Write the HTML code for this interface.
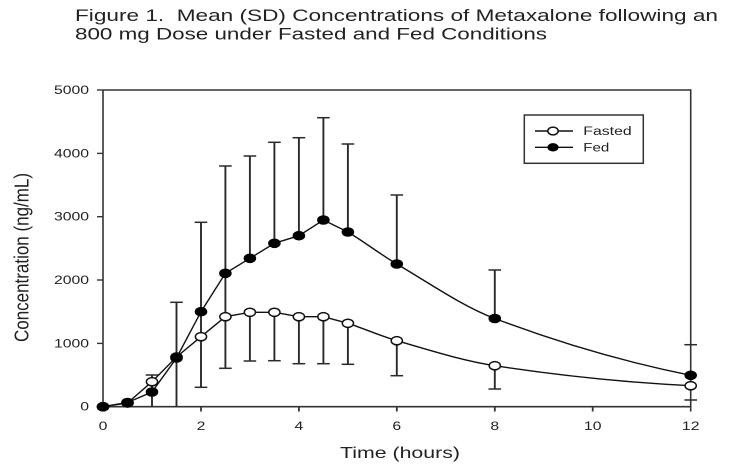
<!DOCTYPE html>
<html><head><meta charset="utf-8"><style>
html,body{margin:0;padding:0;background:#fff;}
svg{display:block;}
text{font-family:"Liberation Sans",Arial,sans-serif;fill:#222;}
</style></head><body>
<svg width="732" height="474" viewBox="0 0 732 474" xmlns="http://www.w3.org/2000/svg">
<rect width="732" height="474" fill="#fff"/>
<!-- Title -->
<text x="75" y="21" font-size="16.5" textLength="643" lengthAdjust="spacingAndGlyphs" xml:space="preserve">Figure 1.  Mean (SD) Concentrations of Metaxalone following an</text>
<text x="75" y="39.5" font-size="16.5" textLength="472" lengthAdjust="spacingAndGlyphs">800 mg Dose under Fasted and Fed Conditions</text>

<!-- Frame -->
<g stroke="#333" stroke-width="1.6" fill="none">
<line x1="103" y1="90" x2="690.7" y2="90"/>
<line x1="103" y1="90" x2="103" y2="407.5"/>
<line x1="102.2" y1="406.7" x2="691.5" y2="406.7"/>
<line x1="690.7" y1="89.2" x2="690.7" y2="411.5"/>
</g>
<!-- Y ticks -->
<g stroke="#333" stroke-width="1.4">
<line x1="97" y1="90" x2="103" y2="90"/>
<line x1="97" y1="153.4" x2="103" y2="153.4"/>
<line x1="97" y1="216.7" x2="103" y2="216.7"/>
<line x1="97" y1="280" x2="103" y2="280"/>
<line x1="97" y1="343.4" x2="103" y2="343.4"/>
<line x1="97" y1="406.7" x2="103" y2="406.7"/>
</g>
<!-- X ticks -->
<g stroke="#333" stroke-width="1.8">
<line x1="103" y1="406.7" x2="103" y2="411.5"/>
<line x1="201" y1="406.7" x2="201" y2="411.5"/>
<line x1="298.9" y1="406.7" x2="298.9" y2="411.5"/>
<line x1="396.8" y1="406.7" x2="396.8" y2="411.5"/>
<line x1="494.8" y1="406.7" x2="494.8" y2="411.5"/>
<line x1="592.7" y1="406.7" x2="592.7" y2="411.5"/>
</g>
<!-- Y tick labels -->
<g font-size="11.5" text-anchor="end" fill="#333">
<text transform="translate(89,94) scale(1.37,1)">5000</text>
<text transform="translate(89,157.4) scale(1.37,1)">4000</text>
<text transform="translate(89,220.7) scale(1.37,1)">3000</text>
<text transform="translate(89,284) scale(1.37,1)">2000</text>
<text transform="translate(89,347.4) scale(1.37,1)">1000</text>
<text transform="translate(89,410.7) scale(1.37,1)">0</text>
</g>
<!-- X tick labels -->
<g font-size="11.5" text-anchor="middle" fill="#333">
<text transform="translate(103,430) scale(1.37,1)">0</text>
<text transform="translate(201,430) scale(1.37,1)">2</text>
<text transform="translate(298.9,430) scale(1.37,1)">4</text>
<text transform="translate(396.8,430) scale(1.37,1)">6</text>
<text transform="translate(494.8,430) scale(1.37,1)">8</text>
<text transform="translate(592.7,430) scale(1.37,1)">10</text>
<text transform="translate(690.7,430) scale(1.37,1)">12</text>
</g>
<!-- Axis titles -->
<text x="400" y="458" font-size="16" text-anchor="middle" textLength="120" lengthAdjust="spacingAndGlyphs">Time (hours)</text>
<text transform="translate(28.7,257.5) scale(1.37,1) rotate(-90)" font-size="15" text-anchor="middle" textLength="169" lengthAdjust="spacingAndGlyphs">Concentration (ng/mL)</text>

<!-- Error bars -->
<g stroke="#2a2a2a" fill="none">
<g stroke-width="1.9">
<line x1="152" y1="375" x2="152" y2="406.7"/>
<line x1="176.5" y1="302.3" x2="176.5" y2="406.7"/>
<line x1="201" y1="222.3" x2="201" y2="387.3"/>
<line x1="225.4" y1="166" x2="225.4" y2="368.3"/>
<line x1="249.9" y1="156" x2="249.9" y2="258.3"/>
<line x1="249.9" y1="312.3" x2="249.9" y2="361"/>
<line x1="274.4" y1="142.3" x2="274.4" y2="243.3"/>
<line x1="274.4" y1="312.3" x2="274.4" y2="360.7"/>
<line x1="298.9" y1="137.7" x2="298.9" y2="235.7"/>
<line x1="298.9" y1="316.7" x2="298.9" y2="363.7"/>
<line x1="323.4" y1="117.7" x2="323.4" y2="220"/>
<line x1="323.4" y1="316.7" x2="323.4" y2="363.7"/>
<line x1="347.9" y1="144" x2="347.9" y2="232"/>
<line x1="347.9" y1="323.3" x2="347.9" y2="364.3"/>
<line x1="396.8" y1="195" x2="396.8" y2="264"/>
<line x1="396.8" y1="340.7" x2="396.8" y2="375.7"/>
<line x1="494.8" y1="270" x2="494.8" y2="318.5"/>
<line x1="494.8" y1="365.7" x2="494.8" y2="389"/>
</g>
<g stroke-width="1.5">
<line x1="145.7" y1="375" x2="158.3" y2="375"/>
<line x1="170.2" y1="302.3" x2="182.8" y2="302.3"/>
<line x1="194.7" y1="222.3" x2="207.3" y2="222.3"/>
<line x1="194.7" y1="387.3" x2="207.3" y2="387.3"/>
<line x1="219.1" y1="166" x2="231.7" y2="166"/>
<line x1="219.1" y1="368.3" x2="231.7" y2="368.3"/>
<line x1="243.6" y1="156" x2="256.2" y2="156"/>
<line x1="243.6" y1="361" x2="256.2" y2="361"/>
<line x1="268.1" y1="142.3" x2="280.7" y2="142.3"/>
<line x1="268.1" y1="360.7" x2="280.7" y2="360.7"/>
<line x1="292.6" y1="137.7" x2="305.2" y2="137.7"/>
<line x1="292.6" y1="363.7" x2="305.2" y2="363.7"/>
<line x1="317.1" y1="117.7" x2="329.7" y2="117.7"/>
<line x1="317.1" y1="363.7" x2="329.7" y2="363.7"/>
<line x1="341.6" y1="144" x2="354.2" y2="144"/>
<line x1="341.6" y1="364.3" x2="354.2" y2="364.3"/>
<line x1="390.5" y1="195" x2="403.1" y2="195"/>
<line x1="390.5" y1="375.7" x2="403.1" y2="375.7"/>
<line x1="488.5" y1="270" x2="501.1" y2="270"/>
<line x1="488.5" y1="389" x2="501.1" y2="389"/>
<line x1="684.4" y1="344.7" x2="697" y2="344.7"/>
<line x1="684.4" y1="400" x2="697" y2="400"/>
</g>
</g>

<!-- Fasted line -->
<path d="M103,406.7 L127.5,403 L152,381.7 L176.5,357 L201,336.7 L225.4,316.7 L249.9,312.3 L274.4,312.3 L298.9,316.7 L323.4,316.7 L347.9,323.3 C364.2,328.6 380.5,336 396.8,340.7 C429.5,350.1 462.1,360.7 494.8,365.7 C560.1,375.7 625.4,382.4 690.7,385.7" fill="none" stroke="#111" stroke-width="1.4"/>
<!-- Fed line -->
<path d="M103,406.7 L127.5,402.5 L152,392 L176.5,358 L201,311.7 L225.4,273.3 L249.9,258.3 L274.4,243.3 L298.9,235.7 L323.4,220 L347.9,232 C364.2,241.8 380.5,254.4 396.8,264 C429.5,283.2 462.1,306.1 494.8,318.5 C560.1,343.2 625.4,362.2 690.7,375.3" fill="none" stroke="#111" stroke-width="1.4"/>

<!-- Fasted markers -->
<g fill="#fff" stroke="#111" stroke-width="1.5">
<ellipse cx="103" cy="406.7" rx="5.6" ry="4.1"/>
<ellipse cx="127.5" cy="403" rx="5.6" ry="4.1"/>
<ellipse cx="152" cy="381.7" rx="5.6" ry="4.1"/>
<ellipse cx="176.5" cy="357" rx="5.6" ry="4.1"/>
<ellipse cx="201" cy="336.7" rx="5.6" ry="4.1"/>
<ellipse cx="225.4" cy="316.7" rx="5.6" ry="4.1"/>
<ellipse cx="249.9" cy="312.3" rx="5.6" ry="4.1"/>
<ellipse cx="274.4" cy="312.3" rx="5.6" ry="4.1"/>
<ellipse cx="298.9" cy="316.7" rx="5.6" ry="4.1"/>
<ellipse cx="323.4" cy="316.7" rx="5.6" ry="4.1"/>
<ellipse cx="347.9" cy="323.3" rx="5.6" ry="4.1"/>
<ellipse cx="396.8" cy="340.7" rx="5.6" ry="4.1"/>
<ellipse cx="494.8" cy="365.7" rx="5.6" ry="4.1"/>
<ellipse cx="690.7" cy="385.7" rx="5.6" ry="4.1"/>
</g>
<!-- Fed markers -->
<g fill="#000" stroke="#000" stroke-width="1">
<ellipse cx="103" cy="406.7" rx="5.8" ry="4.3"/>
<ellipse cx="127.5" cy="402.5" rx="5.8" ry="4.3"/>
<ellipse cx="152" cy="392" rx="5.8" ry="4.3"/>
<ellipse cx="176.5" cy="358" rx="5.8" ry="4.3"/>
<ellipse cx="201" cy="311.7" rx="5.8" ry="4.3"/>
<ellipse cx="225.4" cy="273.3" rx="5.8" ry="4.3"/>
<ellipse cx="249.9" cy="258.3" rx="5.8" ry="4.3"/>
<ellipse cx="274.4" cy="243.3" rx="5.8" ry="4.3"/>
<ellipse cx="298.9" cy="235.7" rx="5.8" ry="4.3"/>
<ellipse cx="323.4" cy="220" rx="5.8" ry="4.3"/>
<ellipse cx="347.9" cy="232" rx="5.8" ry="4.3"/>
<ellipse cx="396.8" cy="264" rx="5.8" ry="4.3"/>
<ellipse cx="494.8" cy="318.5" rx="5.8" ry="4.3"/>
<ellipse cx="690.7" cy="375.3" rx="5.8" ry="4.3"/>
</g>

<!-- Legend -->
<rect x="524.3" y="115" width="119" height="48.3" fill="#fff" stroke="#333" stroke-width="1.5"/>
<line x1="535" y1="131" x2="573" y2="131" stroke="#111" stroke-width="1.4"/>
<ellipse cx="553" cy="131" rx="5.2" ry="3.9" fill="#fff" stroke="#111" stroke-width="1.5"/>
<line x1="535" y1="147.3" x2="573" y2="147.3" stroke="#111" stroke-width="1.4"/>
<ellipse cx="553" cy="147.3" rx="5.6" ry="4.2" fill="#000"/>
<text x="583.3" y="135.2" font-size="11.5" textLength="48.4" lengthAdjust="spacingAndGlyphs" fill="#333">Fasted</text>
<text x="583.3" y="151.5" font-size="11.5" textLength="26" lengthAdjust="spacingAndGlyphs" fill="#333">Fed</text>
</svg>
</body></html>
